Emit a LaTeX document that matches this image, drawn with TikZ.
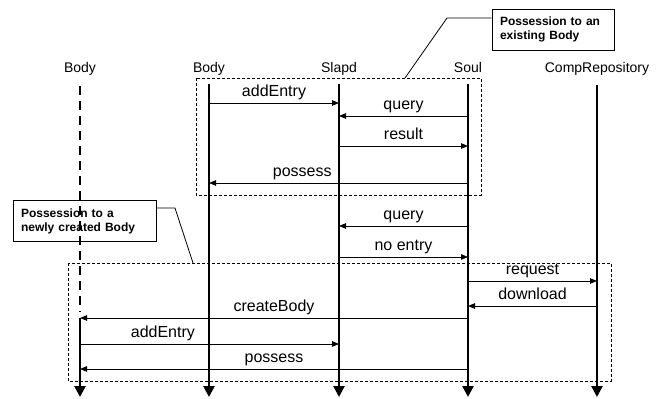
\documentclass[tikz,border=0pt]{standalone}
\usepackage{fontspec}
\setmainfont{Liberation Sans}
\usetikzlibrary{arrows.meta}

\tikzset{
  head/.style={anchor=base, inner sep=0pt, font=\fontsize{14}{16}\selectfont},
  lifeline/.style={line width=2.6pt, -{Triangle[length=11pt,width=11pt]}},
  msg/.style={line width=0.8pt, -{Triangle[length=7pt,width=5.5pt]}},
  lbl/.style={anchor=base, yshift=6.5pt, inner sep=0pt, font=\fontsize{16}{18}\selectfont},
  frame/.style={draw, line width=0.8pt, dash pattern=on 3pt off 2pt},
  note/.style={draw, line width=1pt, align=left, inner xsep=8pt, minimum height=41pt,
    font=\bfseries\fontsize{12}{14}\selectfont},
  pointer/.style={line width=0.8pt}
}

\begin{document}
\begin{tikzpicture}[x=1pt,y=-1pt]
\useasboundingbox (0,0) rectangle (657,399);

% lifeline heads
\node[head] (body1) at (80,72) {Body};
\node[head] (body2) at (209,72) {Body};
\node[head] (slapd) at (339,72) {Slapd};
\node[head] (soul) at (468,72) {Soul};
\node[head] (repo) at (597,72) {CompRepository};

% lifelines
\draw[line width=2.6pt, dash pattern=on 9pt off 6pt] (body1 |- 0,86) -- (body1 |- 0,312);
\draw[lifeline] (body1 |- 0,318) -- (body1 |- 0,397);
\draw[lifeline] (body2 |- 0,84) -- (body2 |- 0,397);
\draw[lifeline] (slapd |- 0,84) -- (slapd |- 0,397);
\draw[lifeline] (soul |- 0,84) -- (soul |- 0,397);
\draw[lifeline] (repo |- 0,85) -- (repo |- 0,397);

% possession to an existing body
\draw[msg] (body2 |- 0,103) -- node[lbl] {addEntry} (slapd |- 0,103);
\draw[msg] (soul |- 0,116) -- node[lbl] {query} (slapd |- 0,116);
\draw[msg] (slapd |- 0,146) -- node[lbl] {result} (soul |- 0,146);
\draw[msg] (soul |- 0,183) -- node[lbl, pos=0.64] {possess} (body2 |- 0,183);

% lookup
\draw[msg] (soul |- 0,226) -- node[lbl] {query} (slapd |- 0,226);
\draw[msg] (slapd |- 0,257) -- node[lbl] {no entry} (soul |- 0,257);

% possession to a newly created body
\draw[msg] (soul |- 0,281) -- node[lbl] {request} (repo |- 0,281);
\draw[msg] (repo |- 0,306) -- node[lbl] {download} (soul |- 0,306);
\draw[msg] (soul |- 0,318) -- node[lbl] {createBody} (body1 |- 0,318);
\draw[msg] (body1 |- 0,344) -- node[lbl, pos=0.32] {addEntry} (slapd |- 0,344);
\draw[msg] (soul |- 0,369) -- node[lbl] {possess} (body1 |- 0,369);

% frames and notes
\draw[frame] (196,78) rectangle (481,195);
\draw[frame] (68,263) rectangle (611,381);
\node[note, text width=106pt] (note1) at (553,29.5) {Possession to an\\existing Body};
\node[note, text width=127pt] (note2) at (84.5,221) {Possession to a\\newly created Body};
\draw[pointer] (note1.west |- 0,18) -- (447,18) -- (405,78);
\draw[pointer] (note2.east |- 0,208) -- (175,208) -- (193,263);
\end{tikzpicture}
\end{document}
